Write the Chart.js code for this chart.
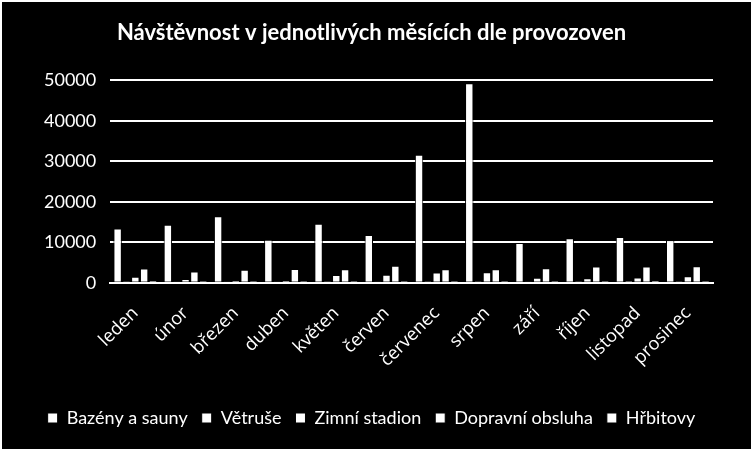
<!DOCTYPE html>
<html>
<head>
<meta charset="utf-8">
<script src="https://cdn.jsdelivr.net/npm/chart.js@4/dist/chart.umd.min.js"></script>
<style>
  html, body { margin: 0; padding: 0; background: #000; }
  #wrap { width: 753px; height: 451px; }
</style>
</head>
<body>
<div id="wrap"><canvas id="myChart" width="753" height="451"></canvas></div>
<script>
// months along the x-axis
var months = ["leden","únor","březen","duben","květen","červen","červenec","srpen","září","říjen","listopad","prosinec"];
// visitors per facility
var bazeny = [13400,14300,16400,10600,14600,11800,31600,49300,9800,11000,11300,10500];
var vetruse = [400,300,300,300,400,300,400,400,300,400,500,400];
var zimniStadion = [1500,900,600,600,1900,2000,2500,2600,1200,1100,1300,1600];
var dopravni = [3500,2800,3200,3400,3300,4200,3300,3300,3600,4000,4000,4100];
var hrbitovy = [600,500,500,500,500,500,500,500,500,500,600,500];
var yTicks = [0,10000,20000,30000,40000,50000];

function bars(label, data) {
  return {
    label: label,
    data: data,
    backgroundColor: "#ffffff",
    borderColor: "#000000",
    borderWidth: 1
  };
}

var frame = {
  id: "frame",
  beforeDraw: function(chart) {
    var c = chart.ctx;
    c.save();
    c.fillStyle = "#000";
    c.fillRect(0, 0, chart.width, chart.height);
    c.restore();
  },
  afterDraw: function(chart) {
    var c = chart.ctx;
    c.save();
    c.strokeStyle = "#ffffff";
    c.lineWidth = 2;
    c.strokeRect(1, 1, chart.width - 2, chart.height - 2);
    c.restore();
  }
};

var ctx = document.getElementById("myChart");
var myChart = new Chart(ctx, {
  type: 'bar',
  data: {
    labels: months,
    datasets: [
      bars("Bazény a sauny", bazeny),
      bars("Větruše", vetruse),
      bars("Zimní stadion", zimniStadion),
      bars("Dopravní obsluha", dopravni),
      bars("Hřbitovy", hrbitovy)
    ]
  },
  options: {
    responsive: false,
    animation: false,
    layout: { padding: { left: 30, right: 40, top: 6, bottom: 14 } },
    datasets: { bar: { categoryPercentage: 0.88, barPercentage: 0.95 } },
    plugins: {
      title: {
        display: true,
        text: "Návštěvnost v jednotlivých měsících dle provozoven",
        color: "#ffffff",
        font: { family: "Lato", size: 22, weight: "bold" },
        padding: { top: 14, bottom: 34 }
      },
      legend: {
        position: "bottom",
        labels: {
          color: "#ffffff",
          font: { family: "Lato", size: 18 },
          boxWidth: 10,
          boxHeight: 10,
          padding: 14
        }
      },
      tooltip: { enabled: false }
    },
    scales: {
      x: {
        grid: { display: false },
        border: { color: "#ffffff", width: 2 },
        afterFit: function(s) { s.height += 12; },
        ticks: {
          color: "#ffffff",
          font: { family: "Open Sans", size: 18 },
          maxRotation: 45,
          minRotation: 45,
          padding: 12
        }
      },
      y: {
        min: 0,
        max: 50000,
        afterBuildTicks: function(axis) {
          axis.ticks = yTicks.map(function(v) { return { value: v }; });
        },
        grid: { color: "#ffffff", lineWidth: 2, drawTicks: false },
        border: { display: false },
        ticks: {
          color: "#ffffff",
          font: { family: "Lato", size: 18 },
          padding: 14,
          callback: function(v) { return String(v); }
        }
      }
    }
  },
  plugins: [frame]
});
</script>
</body>
</html>
